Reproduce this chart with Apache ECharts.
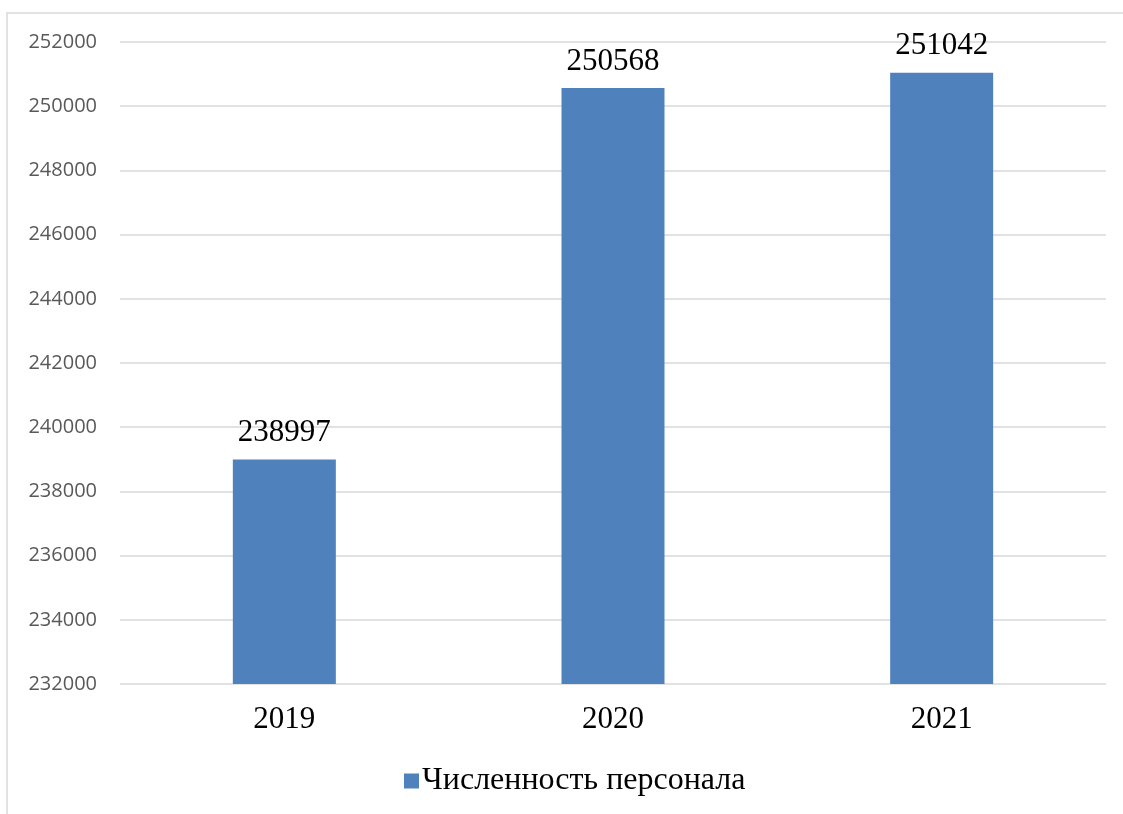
<!DOCTYPE html>
<html><head><meta charset="utf-8">
<script src="https://cdn.jsdelivr.net/npm/echarts@6/dist/echarts.min.js"></script>
<style>html,body{margin:0;padding:0;background:#fff}#c{width:1123px;height:814px}</style>
</head><body><div id="c"></div>
<script>
const categories = ['2019', '2020', '2021'];
const values = [238997, 250568, 251042];
const seriesName = 'Численность персонала';
const yMin = 232000, yMax = 252000, yStep = 2000;

const chart = echarts.init(document.getElementById('c'), null, {renderer: 'canvas'});
chart.setOption({
  animation: false,
  backgroundColor: '#fff',
  graphic: [{
    type: 'rect', shape: {x: 7, y: 13, width: 1200, height: 900},
    style: {fill: 'none', stroke: '#D9D9D9', lineWidth: 1.5}, silent: true
  }],
  grid: {left: 120, right: 17, top: 42, bottom: 130, containLabel: false},
  xAxis: {
    type: 'category', data: categories,
    axisLine: {show: false}, axisTick: {show: false},
    axisLabel: {fontFamily: 'Liberation Serif', fontSize: 31, color: '#000', margin: 20}
  },
  yAxis: {
    type: 'value', min: yMin, max: yMax, interval: yStep,
    axisLine: {show: false}, axisTick: {show: false},
    splitLine: {lineStyle: {color: '#D9D9D9', width: 1.5}},
    axisLabel: {fontFamily: 'Open Sans', fontSize: 20, color: '#595959', margin: 23,
      formatter: v => String(v)}
  },
  legend: {
    left: 399, top: 760, itemWidth: 15, itemHeight: 15, itemGap: 6,
    icon: 'rect',
    textStyle: {fontFamily: 'Liberation Serif', fontSize: 32, color: '#000', padding: [0,0,0,-2]}
  },
  series: [{
    name: seriesName, type: 'bar', data: values, barWidth: 103,
    itemStyle: {color: '#4F81BD'},
    label: {show: true, position: 'top', distance: 11, fontFamily: 'Liberation Serif', fontSize: 31, color: '#000'}
  }]
});
</script></body></html>
